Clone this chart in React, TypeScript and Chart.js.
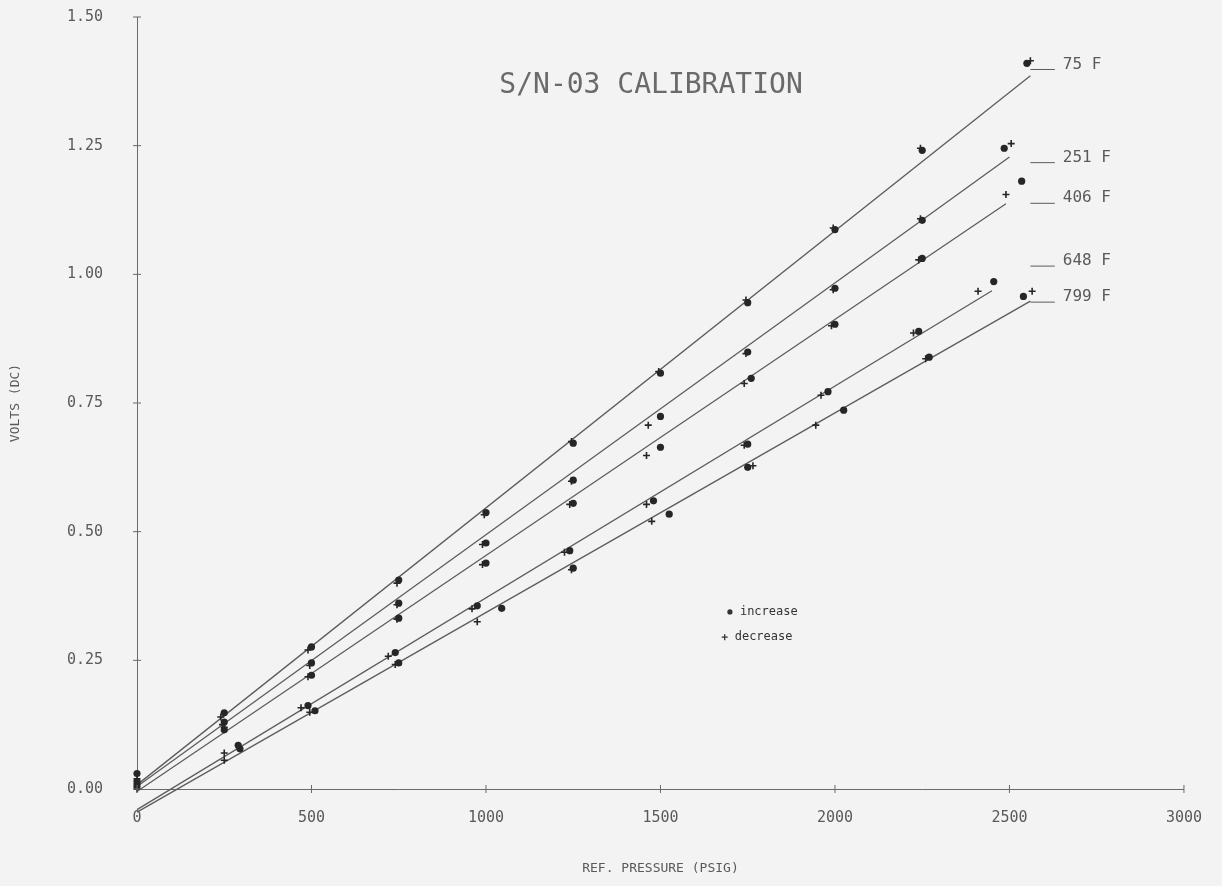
import React, { useEffect, useRef } from 'react';
import { Chart, registerables } from 'chart.js';

Chart.register(...registerables);

// ---- data (pressure in PSIG, output in volts DC) ----
const seriesNames = ['75 F', '251 F', '406 F', '648 F', '799 F'];

const incP75 = [0, 250, 500, 750, 1000, 1250, 1500, 1750, 2000, 2250, 2550];
const incV75 = [0.03, 0.148, 0.276, 0.406, 0.537, 0.672, 0.808, 0.945, 1.087, 1.241, 1.41];
const decP75 = [0, 240, 490, 745, 995, 1245, 1495, 1745, 1995, 2245, 2560];
const decV75 = [0.02, 0.14, 0.27, 0.4, 0.533, 0.675, 0.811, 0.95, 1.09, 1.245, 1.415];

const incP251 = [0, 250, 500, 750, 1000, 1250, 1500, 1750, 2000, 2250, 2485];
const incV251 = [0.015, 0.13, 0.245, 0.361, 0.478, 0.6, 0.724, 0.849, 0.973, 1.105, 1.245];
const decP251 = [0, 245, 495, 745, 990, 1245, 1465, 1745, 1995, 2245, 2505];
const decV251 = [0.01, 0.125, 0.24, 0.358, 0.475, 0.598, 0.707, 0.846, 0.97, 1.108, 1.254];

const incP406 = [0, 250, 500, 750, 1000, 1250, 1500, 1760, 2000, 2250, 2535];
const incV406 = [0.005, 0.115, 0.221, 0.332, 0.439, 0.555, 0.664, 0.798, 0.903, 1.031, 1.181];
const decP406 = [0, 250, 490, 745, 990, 1240, 1460, 1740, 1990, 2240, 2490];
const decV406 = [0.0, 0.12, 0.218, 0.33, 0.436, 0.553, 0.648, 0.788, 0.9, 1.028, 1.155];

const incP648 = [0, 290, 490, 740, 975, 1240, 1480, 1750, 1980, 2240, 2455];
const incV648 = [-0.02, 0.085, 0.162, 0.265, 0.356, 0.463, 0.56, 0.67, 0.772, 0.889, 0.986];
const decP648 = [0, 250, 470, 720, 960, 1225, 1460, 1740, 1960, 2225, 2410];
const decV648 = [-0.03, 0.07, 0.158, 0.258, 0.35, 0.46, 0.553, 0.668, 0.765, 0.886, 0.967];

const incP799 = [0, 295, 510, 750, 1045, 1250, 1525, 1750, 2025, 2270, 2540];
const incV799 = [-0.035, 0.078, 0.152, 0.245, 0.351, 0.429, 0.534, 0.625, 0.736, 0.839, 0.957];
const decP799 = [0, 250, 495, 740, 975, 1245, 1475, 1765, 1945, 2260, 2565];
const decV799 = [-0.042, 0.056, 0.149, 0.242, 0.325, 0.426, 0.52, 0.628, 0.707, 0.836, 0.967];

// least-squares fit lines: volts at 0 psig, end pressure, volts at end
const fitStartV = [0.008, 0.005, -0.005, -0.04, -0.045];
const fitEndP = [2560, 2500, 2490, 2450, 2560];
const fitEndV = [1.386, 1.228, 1.137, 0.968, 0.948];

// label leaders (volts) at the right of each curve
const labelV = [1.398, 1.217, 1.138, 1.016, 0.946];

const xTicks = [0, 500, 1000, 1500, 2000, 2500, 3000];
const yTicks = [0, 0.25, 0.5, 0.75, 1.0, 1.25, 1.5];

const legendLabels = ['increase', 'decrease'];
const titleText = 'S/N-03 CALIBRATION';

const incP = [incP75, incP251, incP406, incP648, incP799];
const incV = [incV75, incV251, incV406, incV648, incV799];
const decP = [decP75, decP251, decP406, decP648, decP799];
const decV = [decV75, decV251, decV406, decV648, decV799];

const FONT = "'DejaVu Sans Mono', monospace";
const TEXT = '#5a5a5a';
const AXIS = '#6a6a6a';
const LINE = '#5c5c5c';
const DOT = '#262626';

const overlayPlugin = {
  id: 'overlay',
  afterDraw(chart: any) {
    const { ctx, scales } = chart;
    const x = scales.x;
    const y = scales.y;
    ctx.save();
    // cross tick marks on the axes
    ctx.strokeStyle = AXIS;
    ctx.lineWidth = 1;
    xTicks.forEach((v) => {
      const px = x.getPixelForValue(v);
      ctx.beginPath();
      ctx.moveTo(px, y.bottom - 4);
      ctx.lineTo(px, y.bottom + 4);
      ctx.stroke();
    });
    yTicks.forEach((v) => {
      const py = y.getPixelForValue(v);
      ctx.beginPath();
      ctx.moveTo(x.left - 4, py);
      ctx.lineTo(x.left + 4, py);
      ctx.stroke();
    });

    // title inside plot
    ctx.fillStyle = '#6a6a6a';
    ctx.font = `28px ${FONT}`;
    ctx.textAlign = 'center';
    ctx.textBaseline = 'middle';
    ctx.fillText(titleText, x.getPixelForValue(1473), y.getPixelForValue(1.367));

    // curve labels with leader dashes
    ctx.font = `16px ${FONT}`;
    ctx.textAlign = 'left';
    ctx.strokeStyle = LINE;
    ctx.fillStyle = TEXT;
    seriesNames.forEach((name, i) => {
      const py = y.getPixelForValue(labelV[i]);
      ctx.beginPath();
      ctx.moveTo(x.getPixelForValue(2560), py);
      ctx.lineTo(x.getPixelForValue(2630), py);
      ctx.stroke();
      ctx.fillText(name, x.getPixelForValue(2653), py - 5);
    });

    // legend
    ctx.font = `12px ${FONT}`;
    ctx.fillStyle = '#333';
    const lx1 = x.getPixelForValue(1699);
    const ly1 = y.getPixelForValue(0.344);
    ctx.beginPath();
    ctx.arc(lx1, ly1, 2.6, 0, Math.PI * 2);
    ctx.fill();
    ctx.fillText(legendLabels[0], lx1 + 10, ly1);
    const lx2 = x.getPixelForValue(1684);
    const ly2 = y.getPixelForValue(0.295);
    ctx.strokeStyle = '#333';
    ctx.lineWidth = 1.3;
    ctx.beginPath();
    ctx.moveTo(lx2 - 3, ly2);
    ctx.lineTo(lx2 + 3, ly2);
    ctx.moveTo(lx2, ly2 - 3);
    ctx.lineTo(lx2, ly2 + 3);
    ctx.stroke();
    ctx.fillText(legendLabels[1], lx2 + 10, ly2);
    ctx.restore();
  },
};

export default function App() {
  const canvasRef = useRef<HTMLCanvasElement | null>(null);

  useEffect(() => {
    if (!canvasRef.current) return;
    const datasets: any[] = [];
    seriesNames.forEach((name, i) => {
      datasets.push({
        label: name + ' fit',
        data: [
          { x: 0, y: fitStartV[i] },
          { x: fitEndP[i], y: fitEndV[i] },
        ],
        showLine: true,
        borderColor: LINE,
        borderWidth: 1.3,
        pointRadius: 0,
        clip: false,
        order: 3,
      });
      datasets.push({
        label: name + ' increase',
        data: incP[i].map((p, j) => ({ x: p, y: incV[i][j] })),
        pointStyle: 'circle',
        pointRadius: 3.6,
        backgroundColor: DOT,
        borderColor: DOT,
        borderWidth: 0,
        clip: false,
        order: 1,
      });
      datasets.push({
        label: name + ' decrease',
        data: decP[i].map((p, j) => ({ x: p, y: decV[i][j] })),
        pointStyle: 'cross',
        pointRadius: 3.5,
        borderColor: DOT,
        borderWidth: 1.6,
        clip: false,
        order: 2,
      });
    });

    const chart = new Chart(canvasRef.current, {
      type: 'scatter',
      data: { datasets },
      options: {
        animation: false,
        responsive: true,
        maintainAspectRatio: false,
        layout: { padding: { top: 17, right: 38, left: 0, bottom: 0 } },
        plugins: {
          legend: { display: false },
          tooltip: { enabled: false },
        },
        scales: {
          x: {
            type: 'linear',
            min: 0,
            max: 3000,
            afterBuildTicks: (s: any) => {
              s.ticks = xTicks.map((v) => ({ value: v }));
            },
            afterFit: (s: any) => {
              s.height = 97;
            },
            grid: { drawOnChartArea: false, drawTicks: false },
            border: { display: true, color: AXIS, width: 1 },
            ticks: {
              padding: 20,
              color: TEXT,
              font: { family: FONT, size: 15 },
              maxRotation: 0,
              callback: (v: any) => String(v),
            },
            title: {
              display: true,
              text: 'REF. PRESSURE (PSIG)',
              color: TEXT,
              font: { family: FONT, size: 13 },
              padding: { top: 0, bottom: 10 },
            },
          },
          y: {
            type: 'linear',
            min: 0,
            max: 1.5,
            afterBuildTicks: (s: any) => {
              s.ticks = yTicks.map((v) => ({ value: v }));
            },
            afterFit: (s: any) => {
              s.width = 137;
              s.paddingTop = 0;
              s.paddingBottom = 0;
            },
            grid: { drawOnChartArea: false, drawTicks: false },
            border: { display: true, color: AXIS, width: 1 },
            ticks: {
              padding: 34,
              color: TEXT,
              font: { family: FONT, size: 15 },
              callback: (v: any) => Number(v).toFixed(2),
            },
            title: {
              display: true,
              text: 'VOLTS (DC)',
              color: TEXT,
              font: { family: FONT, size: 13 },
              padding: { top: 8, bottom: 0 },
            },
          },
        },
      },
      plugins: [overlayPlugin],
    });
    return () => chart.destroy();
  }, []);

  return (
    <div
      style={{
        position: 'fixed',
        left: 0,
        top: 0,
        width: 1222,
        height: 886,
        background: '#f3f3f3',
      }}
    >
      <canvas ref={canvasRef} />
    </div>
  );
}
